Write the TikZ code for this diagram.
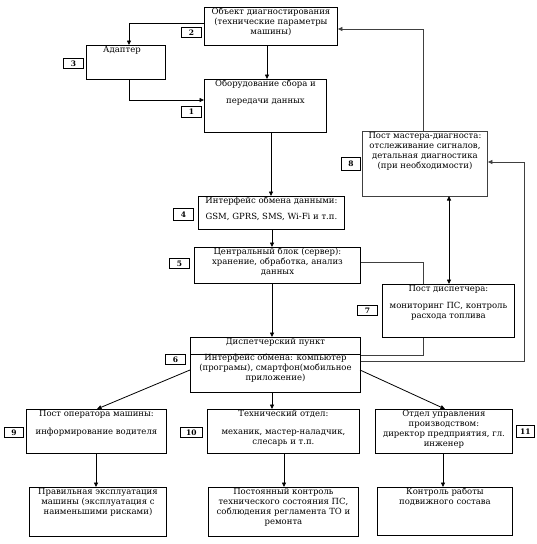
\documentclass[tikz,border=0pt]{standalone}
\usepackage{fontspec}
\setmainfont{DejaVu Serif}
\usetikzlibrary{arrows.meta}
\begin{document}
\begin{tikzpicture}[x=1pt,y=-1pt,
  box/.style={draw=black, line width=0.9pt, inner sep=0pt, anchor=north west},
  gbox/.style={box, draw=black!75},
  txt/.style={inner sep=0pt, anchor=north, align=center, font=\fontsize{8.5}{10}\selectfont},
  lbl/.style={draw=black, line width=0.9pt, inner sep=0pt, anchor=north west, font=\fontsize{7.5}{8}\selectfont\bfseries},
  arr/.style={line width=0.8pt, draw=black, -{Triangle[length=4.5pt,width=4pt]}},
  darr/.style={line width=0.8pt, draw=black, {Triangle[length=4.5pt,width=4pt]}-{Triangle[length=4.5pt,width=4pt]}},
  ln/.style={line width=0.8pt, draw=black!75},
  garr/.style={arr, draw=black!75}]
\useasboundingbox (0,0) rectangle (537,544);
\newcommand\st{\rule{0pt}{7pt}}
% boxes
\node[box, minimum width=133pt, minimum height=38pt] (b2) at (204,7) {};
\node[box, minimum width=79pt, minimum height=34pt] (b3) at (86,45) {};
\node[box, minimum width=122pt, minimum height=53pt] (b1) at (204,79) {};
\node[gbox, minimum width=125pt, minimum height=65pt] (b8) at (362,131) {};
\node[box, minimum width=146pt, minimum height=33pt] (b4) at (198,196) {};
\node[box, minimum width=166pt, minimum height=36pt] (b5) at (194,247) {};
\node[box, minimum width=132pt, minimum height=53pt] (b7) at (382,284) {};
\node[box, minimum width=170pt, minimum height=55pt] (b6) at (190,337) {};
\node[box, minimum width=140pt, minimum height=44pt] (b9) at (26,409) {};
\node[box, minimum width=152pt, minimum height=44pt] (b10) at (207,409) {};
\node[box, minimum width=137pt, minimum height=44pt] (b11) at (375,409) {};
\node[box, minimum width=137pt, minimum height=49pt] (b9b) at (29,487) {};
\node[box, minimum width=150pt, minimum height=49pt] (b10b) at (208,487) {};
\node[box, minimum width=135pt, minimum height=48pt] (b11b) at (377,487) {};
\draw[line width=0.9pt] (b6.north west) ++(0,17) coordinate (d6) -- (d6 -| b6.east);
% texts
\node[txt] (t2) at (b2.north) {\st Объект диагностирования\\(технические параметры\\машины)};
\node[txt] (t3) at ([xshift=-4pt]b3.north) {\st Адаптер};
\node[txt] (t1) at (b1.north) {\st Оборудование сбора и\\[7pt]передачи данных};
\node[txt] (t8) at (b8.north) {\st Пост мастера-диагноста:\\отслеживание сигналов,\\детальная диагностика\\(при необходимости)};
\node[txt] (t4) at (b4.north) {\st Интерфейс обмена данными:\\[6pt]GSM, GPRS, SMS, Wi-Fi и т.п.};
\node[txt] (t5) at (b5.north) {\st Центральный блок (сервер):\\хранение, обработка, анализ\\данных};
\node[txt] (t7) at (b7.north) {\st Пост диспетчера:\\[7pt]мониторинг ПС, контроль\\расхода топлива};
\node[txt] (t6) at (b6.north) {\st Диспетчерский пункт\\[6pt]Интерфейс обмена: компьютер\\(програмы), смартфон(мобильное\\приложение)};
\node[txt] (t9) at (b9.north) {\st Пост оператора машины:\\[8pt]информирование водителя};
\node[txt] (t10) at (b10.north) {\st Технический отдел:\\[8pt]механик, мастер-наладчик,\\слесарь и т.п.};
\node[txt] (t11) at (b11.north) {\st Отдел управления\\производством:\\директор предприятия, гл.\\инженер};
\node[txt] (t9b) at (b9b.north) {\st Правильная эксплуатация\\машины (эксплуатация с\\наименьшими рисками)};
\node[txt] (t10b) at (b10b.north) {\st Постоянный контроль\\технического состояния ПС,\\соблюдения регламента ТО и\\ремонта};
\node[txt] (t11b) at (b11b.north) {\st Контроль работы\\подвижного состава};
% number labels
\node[lbl, minimum width=20pt, minimum height=10pt] (L2) at (181,27) {2};
\node[lbl, minimum width=20pt, minimum height=10pt] (L3) at (63,58) {3};
\node[lbl, minimum width=20pt, minimum height=11pt] (L1) at (181,106) {1};
\node[lbl, minimum width=19pt, minimum height=13pt] (L8) at (341,157) {8};
\node[lbl, minimum width=20pt, minimum height=12pt] (L4) at (173,208) {4};
\node[lbl, minimum width=20pt, minimum height=10pt] (L5) at (169,258) {5};
\node[lbl, minimum width=20pt, minimum height=10pt] (L7) at (357,305) {7};
\node[lbl, minimum width=20pt, minimum height=10pt] (L6) at (165,354) {6};
\node[lbl, minimum width=19pt, minimum height=10pt] (L9) at (4,427) {9};
\node[lbl, minimum width=22pt, minimum height=10pt] (L10) at (180,427) {10};
\node[lbl, minimum width=18pt, minimum height=12pt] (L11) at (516,425) {11};
% coordinates for bends
\coordinate (c23) at (129,23);
\coordinate (c31) at (129,100);
\coordinate (c57) at (423,262);
\coordinate (c76) at (423,355);
\coordinate (c68a) at (524,361);
\coordinate (c68b) at (524,162);
\coordinate (c82) at (423,29);
% connectors
\draw[arr] (b2.west |- c23) -- (c23) -- (c23 |- b3.north);
\draw[arr] (c23 |- b3.south) -- (c31) -- (c31 -| b1.west);
\draw[arr] (267,45) coordinate (s21) -- (s21 |- b1.north);
\draw[arr] (271,132) coordinate (s14) -- (s14 |- b4.north);
\draw[arr] (272,229) coordinate (s45) -- (s45 |- b5.north);
\draw[arr] (272,283) coordinate (s56) -- (s56 |- b6.north);
\draw[arr] (272,392) coordinate (s610) -- (s610 |- b10.north);
\draw[ln] (b5.east |- c57) -- (c57) -- (c57 |- b7.north);
\draw[ln] (c76 |- b7.south) -- (c76) -- (c76 -| b6.east);
\draw[garr] (b6.east |- c68a) -- (c68a) -- (c68b) -- (c68b -| b8.east);
\draw[garr] (c82 |- b8.north) -- (c82) -- (c82 -| b2.east);
\draw[darr] (449,196) coordinate (s87) -- (s87 |- b7.north);
\draw[arr] (190,370) coordinate (s69) -- (97,409) coordinate (e69);
\draw[arr] (360,370) coordinate (s611) -- (445,409) coordinate (e611);
\draw[arr] (96,453) coordinate (s99) -- (s99 |- b9b.north);
\draw[arr] (284,453) coordinate (s1010) -- (s1010 |- b10b.north);
\draw[arr] (443,453) coordinate (s1111) -- (s1111 |- b11b.north);
\end{tikzpicture}
\end{document}
